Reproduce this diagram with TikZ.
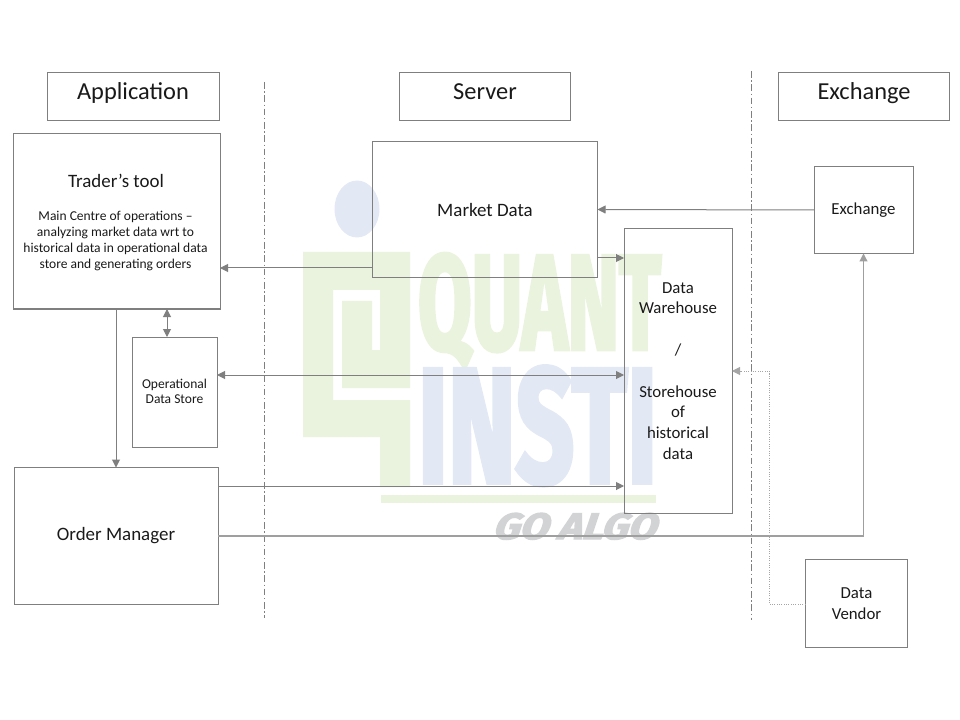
\documentclass[tikz,border=0pt]{standalone}
\usepackage{fontspec}
\usepackage{graphicx}
\usetikzlibrary{arrows.meta}
\setmainfont{Carlito}
\newfontfamily\wmfont[FakeBold=3.5]{Fira Sans Bold}
\newfontfamily\wmslant[FakeSlant=0.3,FakeBold=3.5]{Fira Sans Bold}
\newcommand{\headtext}[1]{\raisebox{-2.2pt}[0pt][0pt]{#1}}
\definecolor{wmgreen}{HTML}{EAF3DD}
\definecolor{wmblue}{HTML}{E2E9F4}
\definecolor{wmgrey}{HTML}{D2D3D5}
\definecolor{ln}{HTML}{7F7F7F}
\tikzset{
  px/.style={x=0.75pt,y=-0.75pt},
  box/.style 2 args={draw=ln,line width=0.75pt,inner sep=0pt,outer sep=0pt,minimum width=#1*0.75pt,minimum height=#2*0.75pt,align=center,text=black!90},
  heading/.style={font=\fontsize{18.3}{22}\selectfont},
  bigtext/.style={font=\fontsize{14.2}{16}\selectfont},
  label/.style={font=\fontsize{12.6}{15.6}\selectfont},
  smalltext/.style={font=\fontsize{10.15}{12}\selectfont},
  conn/.style={draw=ln,line width=0.75pt,-{Triangle[length=6pt,width=6pt]}},
  conn2/.style={draw=ln,line width=0.75pt,{Triangle[length=6pt,width=6pt]}-{Triangle[length=6pt,width=6pt]}},
  divider/.style={draw=ln,line width=0.6pt,dash pattern=on 5pt off 2pt on 1pt off 2pt},
  wm/.style={inner sep=0pt,outer sep=0pt,anchor=base west},
}
\begin{document}
\begin{tikzpicture}[px]
\useasboundingbox (0,0) rectangle (960,720);
% watermark
\fill[wmblue] (357,209) ellipse [x radius=22.5,y radius=28.5];
\fill[wmgreen] (303,252) -- (410,252) -- (410,388) -- (342,388) -- (342,301) -- (372,301) -- (372,350) -- (380,350) -- (380,290) -- (333,290) -- (333,400) -- (410,400) -- (410,487) -- (380,487) -- (380,437) -- (303,437) -- cycle;
\fill[wmgreen] (381,495) rectangle (656,503);
\node[wm,text=wmgreen] (wmquant) at (418,349) {\resizebox{243\dimexpr0.75pt\relax}{95\dimexpr0.75pt\relax}{\wmfont QUANT}};
\node[wm,text=wmblue] (wminsti) at (418,482) {\resizebox{239\dimexpr0.75pt\relax}{115\dimexpr0.75pt\relax}{\wmfont INSTI}};
\node[wm,text=wmgrey] (wmalgo) at (492,539) {\resizebox{163\dimexpr0.75pt\relax}{26\dimexpr0.75pt\relax}{\wmslant GO ALGO}};
% headers
\node[box={172}{48},heading] (app) at (133,96.5) {\headtext{Application}};
\node[box={171}{48},heading] (server) at (485,96.5) {\headtext{Server}};
\node[box={171}{48},heading] (exhead) at (864,96.5) {\headtext{Exchange}};
% boxes
\node[box={207}{175}] (trader) at (116.5,221.5) {};
\node[bigtext,text=black!90] (tradertitle) at (116,181) {Trader’s tool};
\node[align=center,smalltext,text=black!90] (tradertext) at (115.5,241) {Main Centre of operations --\\analyzing market data wrt to\\historical data in operational data\\store and generating orders};
\node[box={225}{136},bigtext] (market) at (485,209.5) {Market Data};
\node[box={99}{87},label] (exchange) at (863.5,210) {\raisebox{-0.5pt}{Exchange}};
\node[box={108}{284.5},label] (warehouse) at (678,371) {Data\\Warehouse\\[15.6pt]/\\[15.6pt]Storehouse\\of\\historical\\data};
\node[box={85}{110},smalltext] (opstore) at (174.5,392) {\raisebox{1pt}{\shortstack{Operational\\Data Store}}};
\node[box={204}{137},bigtext] (order) at (116,536) {Order Manager};
\node[box={102}{88},label] (vendor) at (856.5,603.5) {Data\\Vendor};
% dividers
\coordinate (d1t) at (264.5,82); \coordinate (d1b) at (264.5,618);
\coordinate (d2t) at (751.5,71); \coordinate (d2b) at (751.5,620);
\draw[divider] (d1t) -- (d1b);
\draw[divider] (d2t) -- (d2b);
% connectors
\draw[conn] (market.west |- 0,268) -- (trader.east |- 0,268);
\draw[conn] (market.east |- 0,258) -- (warehouse.west |- 0,258);
\draw[conn] (exchange.west) -- (market.east);
\draw[conn] (116,0 |- trader.south) -- (116,0 |- order.north);
\draw[conn2] (167,0 |- trader.south) -- (167,0 |- opstore.north);
\draw[conn2] (opstore.east |- 0,375) -- (warehouse.west |- 0,375);
\draw[conn] (order.east |- 0,486) -- (warehouse.west |- 0,486);
\draw[conn,draw=ln!75,line width=0.85pt] (order.east |- 0,536) -| (exchange.south);
\coordinate (vbend) at (769,371);
\draw[conn,draw=ln!70,densely dotted] (vendor.west |- 0,604) -| (vbend) -- (warehouse.east |- vbend);
\end{tikzpicture}
\end{document}
